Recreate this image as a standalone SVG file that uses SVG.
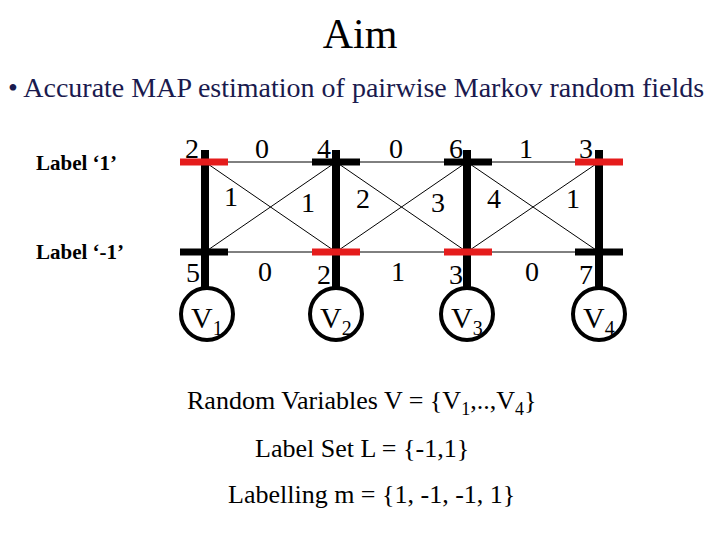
<svg xmlns="http://www.w3.org/2000/svg" width="720" height="540" viewBox="0 0 720 540">
<style>
text{font-family:"Liberation Serif",serif;fill:#000}
.t{font-size:28px}
.e{stroke:#000;stroke-width:1}
.v{stroke:#000;stroke-width:8}
.r{stroke:#e51c1c;stroke-width:7}
.k{stroke:#000;stroke-width:7}
circle{fill:#fff;stroke:#000;stroke-width:4}
</style>
<rect width="720" height="540" fill="#fff"/>
<text x="360" y="48" font-size="42" text-anchor="middle">Aim</text>
<text x="8" y="97" font-size="28" style="fill:#1a1a4e">• Accurate MAP estimation of pairwise Markov random fields</text>
<text x="36" y="170" font-size="21" font-weight="bold" font-family="Liberation Serif, serif">Label ‘1’</text>
<text x="36" y="259" font-size="21" font-weight="bold" font-family="Liberation Serif, serif">Label ‘-1’</text>
<g id="connectors">
<line class="e" x1="205" y1="162" x2="599" y2="162"/>
<line class="e" x1="205" y1="252" x2="599" y2="252"/>
<line class="e" x1="205" y1="162" x2="336" y2="252"/>
<line class="e" x1="205" y1="252" x2="336" y2="162"/>
<line class="e" x1="336" y1="162" x2="467" y2="252"/>
<line class="e" x1="336" y1="252" x2="467" y2="162"/>
<line class="e" x1="467" y1="162" x2="599" y2="252"/>
<line class="e" x1="467" y1="252" x2="599" y2="162"/>
</g>
<g id="V1">
<line class="v" x1="205" y1="150" x2="205" y2="288"/>
<line class="r" x1="180" y1="162" x2="228" y2="162"/>
<line class="k" x1="180" y1="252" x2="228" y2="252"/>
<circle cx="207" cy="314" r="26"/>
<text x="191" y="328" font-size="30">V<tspan font-size="20" dy="7">1</tspan></text>
</g>
<g id="V2">
<line class="v" x1="336" y1="150" x2="336" y2="288"/>
<line class="k" x1="312" y1="162" x2="360" y2="162"/>
<line class="r" x1="312" y1="252" x2="360" y2="252"/>
<circle cx="336" cy="314" r="26"/>
<text x="320" y="328" font-size="30">V<tspan font-size="20" dy="7">2</tspan></text>
</g>
<g id="V3">
<line class="v" x1="467" y1="150" x2="467" y2="288"/>
<line class="k" x1="444" y1="162" x2="492" y2="162"/>
<line class="r" x1="444" y1="252" x2="492" y2="252"/>
<circle cx="467" cy="314" r="26"/>
<text x="451" y="328" font-size="30">V<tspan font-size="20" dy="7">3</tspan></text>
</g>
<g id="V4">
<line class="v" x1="599" y1="150" x2="599" y2="288"/>
<line class="r" x1="575" y1="162" x2="623" y2="162"/>
<line class="k" x1="575" y1="252" x2="623" y2="252"/>
<circle cx="599" cy="314" r="26"/>
<text x="583" y="328" font-size="30">V<tspan font-size="20" dy="7">4</tspan></text>
</g>
<g>
<text x="185" y="158" class="t">2</text><text x="255" y="158" class="t">0</text>
<text x="317" y="158" class="t">4</text><text x="389" y="158" class="t">0</text>
<text x="449" y="158" class="t">6</text><text x="519" y="158" class="t">1</text>
<text x="579" y="158" class="t">3</text>
<text x="224" y="206" class="t">1</text><text x="301" y="212" class="t">1</text>
<text x="356" y="208" class="t">2</text><text x="431" y="212" class="t">3</text>
<text x="487" y="208" class="t">4</text><text x="566" y="208" class="t">1</text>
<text x="186" y="282" class="t">5</text><text x="258" y="281" class="t">0</text>
<text x="317" y="284" class="t">2</text><text x="391" y="281" class="t">1</text>
<text x="449" y="284" class="t">3</text><text x="525" y="281" class="t">0</text>
<text x="579" y="284" class="t">7</text>
</g>
<text x="187" y="409" font-size="26">Random Variables V = {V<tspan font-size="18" dy="6">1</tspan><tspan dy="-6">,..,V</tspan><tspan font-size="18" dy="6">4</tspan><tspan dy="-6">}</tspan></text>
<text x="255" y="457" font-size="26">Label Set L = {-1,1}</text>
<text x="228" y="503" font-size="26">Labelling m = {1, -1, -1, 1}</text>
</svg>
